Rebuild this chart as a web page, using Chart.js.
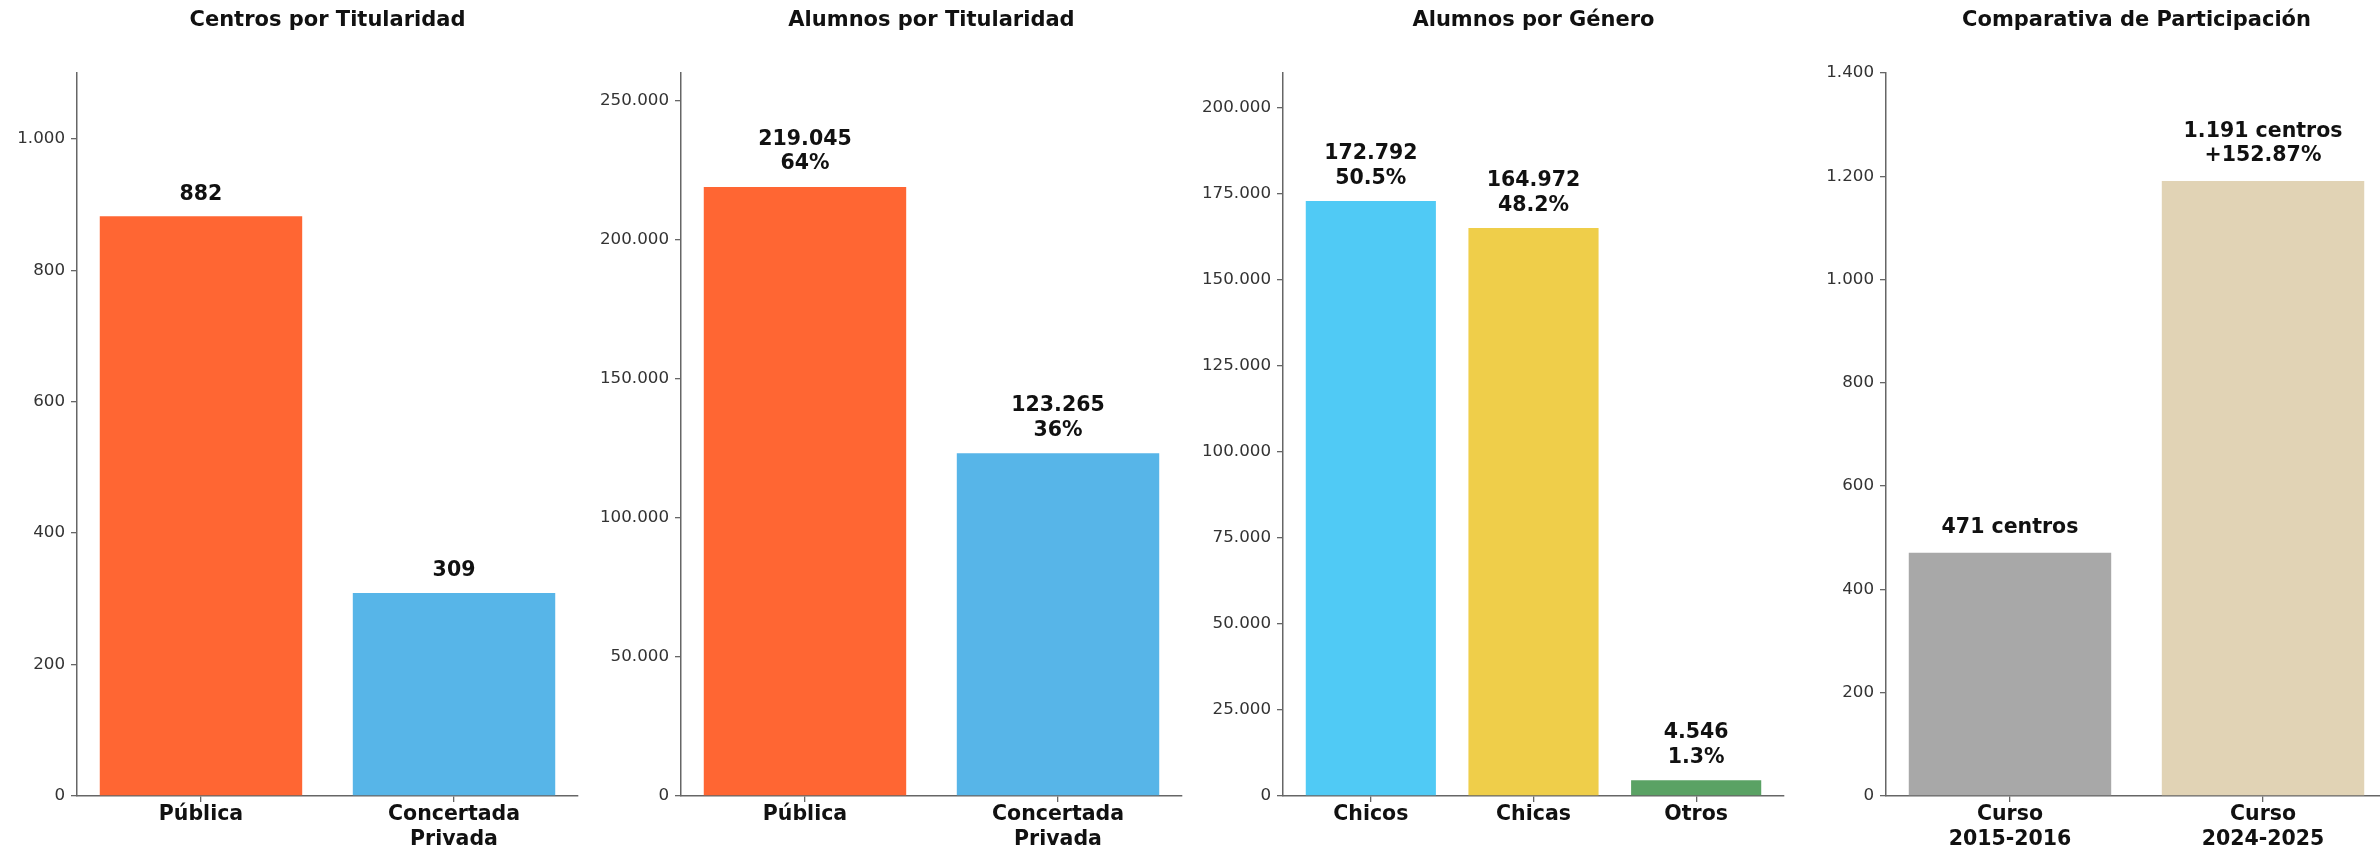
<!DOCTYPE html>
<html>
<head>
<meta charset="utf-8">
<script src="https://cdn.jsdelivr.net/npm/chart.js@4.4.1/dist/chart.umd.min.js"></script>
<style>
  html, body { margin: 0; padding: 0; background: #fff; }
  body { width: 2380px; height: 849px; overflow: hidden; position: relative; }
  .panel { position: absolute; top: 0; }
</style>
</head>
<body>
<div class="panel" id="p0"><canvas id="c0" width="661" height="849"></canvas></div>
<div class="panel" id="p1"><canvas id="c1" width="661" height="849"></canvas></div>
<div class="panel" id="p2"><canvas id="c2" width="661" height="849"></canvas></div>
<div class="panel" id="p3"><canvas id="c3" width="661" height="849"></canvas></div>
<script>
// Data
const titularidadCats = ['Pública', ['Concertada', 'Privada']];
const centrosValores = [882, 309];
const alumnosTitValores = [219045, 123265];
const alumnosTitPct = ['64%', '36%'];
const generoCats = ['Chicos', 'Chicas', 'Otros'];
const generoValores = [172792, 164972, 4546];
const generoPct = ['50.5%', '48.2%', '1.3%'];
const cursoCats = [['Curso', '2015-2016'], ['Curso', '2024-2025']];
const participacionValores = [471, 1191];
const participacionCambio = '+152.87%';

// Y axis ticks and limits
const centrosTicks = [0, 200, 400, 600, 800, 1000];
const alumnosTitTicks = [0, 50000, 100000, 150000, 200000, 250000];
const generoTicks = [0, 25000, 50000, 75000, 100000, 125000, 150000, 175000, 200000];
const participacionTicks = [0, 200, 400, 600, 800, 1000, 1200, 1400];
const yMaxes = [1100, 260000, 210000, 1400];

const FONT = '"DejaVu Sans", Verdana, sans-serif';
const AXIS_COLOR = '#666';

// thousands separator with dots
function fmt(v) {
  return String(v).replace(/\B(?=(\d{3})+(?!\d))/g, '.');
}

// Title centred over the plot area (not the whole canvas)
const panelTitle = {
  id: 'panelTitle',
  afterDraw(chart, args, opts) {
    const ctx = chart.ctx;
    const area = chart.chartArea;
    ctx.save();
    ctx.font = 'bold 21px ' + FONT;
    ctx.fillStyle = '#111';
    ctx.textAlign = 'center';
    ctx.textBaseline = 'middle';
    ctx.fillText(opts.text, (area.left + area.right) / 2, opts.y);
    ctx.restore();
  }
};

// Draw value labels above bars
const valueLabels = {
  id: 'valueLabels',
  afterDatasetsDraw(chart, args, opts) {
    const ctx = chart.ctx;
    const meta = chart.getDatasetMeta(0);
    ctx.save();
    ctx.font = 'bold 20.5px ' + FONT;
    ctx.fillStyle = '#111';
    ctx.textAlign = 'center';
    ctx.textBaseline = 'alphabetic';
    meta.data.forEach((bar, i) => {
      const lines = opts.lines[i];
      lines.forEach((line, j) => {
        const y = bar.y - opts.offset - (lines.length - 1 - j) * 24.5;
        ctx.fillText(line, bar.x, y);
      });
    });
    ctx.restore();
  }
};

function makeChart(idx, left, title, cats, values, colors, yTicks, lines, offset) {
  document.getElementById('p' + idx).style.left = left + 'px';
  const ctx = document.getElementById('c' + idx).getContext('2d');
  // same margins as a default matplotlib bar plot
  const margin = 0.05 * (cats.length - 1 + 0.8);
  return new Chart(ctx, {
    type: 'bar',
    data: {
      datasets: [{
        data: values.map((v, i) => ({ x: i, y: v })),
        backgroundColor: colors,
        borderWidth: 0,
        barPercentage: 0.8,
        categoryPercentage: 1
      }]
    },
    plugins: [valueLabels, panelTitle],
    options: {
      responsive: false,
      animation: false,
      layout: { padding: { left: 0, right: 80, top: 73, bottom: 0 } },
      plugins: {
        legend: { display: false },
        tooltip: { enabled: false },
        title: { display: false },
        panelTitle: { text: title, y: 21 },
        valueLabels: { lines: lines, offset: offset }
      },
      scales: {
        x: {
          type: 'linear',
          offset: false,
          min: -0.4 - margin,
          max: cats.length - 1 + 0.4 + margin,
          grid: { display: true, offset: false, drawOnChartArea: false, tickLength: 6, color: AXIS_COLOR, lineWidth: 1.3 },
          border: { display: true, color: AXIS_COLOR, width: 1.5 },
          ticks: {
            color: '#111',
            padding: 0,
            maxRotation: 0,
            autoSkip: false,
            font: { family: FONT, size: 20.5, weight: 'bold', lineHeight: 1.22 },
            callback: v => cats[v]
          },
          afterBuildTicks(s) { s.ticks = cats.map((c, i) => ({ value: i })); },
          afterFit(s) { s.height = 53; }
        },
        y: {
          min: 0,
          max: yMaxes[idx],
          grid: { display: true, drawOnChartArea: false, tickLength: 6, color: AXIS_COLOR, lineWidth: 1.3 },
          border: { display: true, color: AXIS_COLOR, width: 1.5 },
          ticks: {
            color: '#333',
            padding: 6,
            font: { family: FONT, size: 16.7 },
            callback: v => fmt(v)
          },
          afterBuildTicks(s) { s.ticks = yTicks.map(v => ({ value: v })); },
          afterFit(s) { s.width = 80; }
        }
      }
    }
  });
}

makeChart(0, 76.5 - 80, 'Centros por Titularidad', titularidadCats, centrosValores,
  ['#FF6633', '#57B5E8'], centrosTicks,
  centrosValores.map(v => [fmt(v)]), 16.5);

makeChart(1, 680.7 - 80, 'Alumnos por Titularidad', titularidadCats, alumnosTitValores,
  ['#FF6633', '#57B5E8'], alumnosTitTicks,
  alumnosTitValores.map((v, i) => [fmt(v), alumnosTitPct[i]]), 17.5);

makeChart(2, 1283 - 80, 'Alumnos por Género', generoCats, generoValores,
  ['#50CAF5', '#EFCE4A', '#5AA264'], generoTicks,
  generoValores.map((v, i) => [fmt(v), generoPct[i]]), 17.5);

makeChart(3, 1886 - 80, 'Comparativa de Participación', cursoCats, participacionValores,
  ['#A8A8A8', '#E1D3B5'], participacionTicks,
  [[fmt(participacionValores[0]) + ' centros'], [fmt(participacionValores[1]) + ' centros', participacionCambio]], 19.5);
</script>
</body>
</html>
